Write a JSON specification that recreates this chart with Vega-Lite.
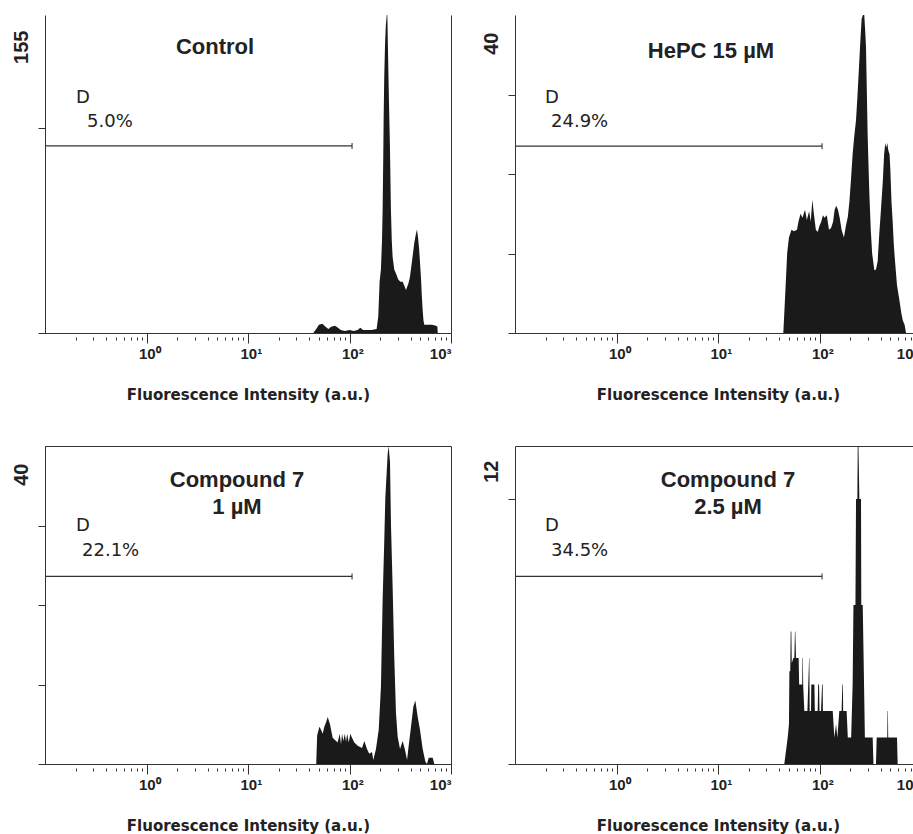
{
  "$schema": "https://vega.github.io/schema/vega-lite/v6.json",
  "background": "white",
  "padding": {"left": 11, "top": 15, "right": 0, "bottom": 0},
  "config": {
    "view": {"stroke": null},
    "axis": {"grid": false, "domainColor": "#333333", "tickColor": "#333333", "labelColor": "#222222", "titleColor": "#222222", "labelFont": "Liberation Sans", "titleFont": "Liberation Sans"},
    "title": {"font": "Liberation Sans", "color": "#222222", "fontWeight": "bold", "fontSize": 22, "anchor": "middle", "frame": "group", "baseline": "top"},
    "text": {"font": "DejaVu Sans", "color": "#222222", "fontSize": 18, "align": "left", "baseline": "alphabetic"}
  },
  "datasets": {
    "control": [{"x":44,"y":0},{"x":47,"y":2},{"x":50,"y":4},{"x":54,"y":4.5},{"x":58,"y":3},{"x":62,"y":2},{"x":66,"y":3},{"x":72,"y":3.5},{"x":77,"y":2.5},{"x":82,"y":1.5},{"x":90,"y":1},{"x":100,"y":1.5},{"x":110,"y":1},{"x":120,"y":1.5},{"x":128,"y":2.5},{"x":136,"y":1.5},{"x":150,"y":1.5},{"x":165,"y":1.5},{"x":185,"y":2},{"x":192,"y":8},{"x":198,"y":25},{"x":204,"y":31},{"x":209,"y":45},{"x":212,"y":60},{"x":215,"y":85},{"x":217,"y":105},{"x":220,"y":125},{"x":224,"y":141},{"x":228,"y":150},{"x":233,"y":155},{"x":236,"y":155},{"x":239,"y":140},{"x":242,"y":125},{"x":246,"y":108},{"x":250,"y":92},{"x":256,"y":60},{"x":261,"y":45},{"x":266,"y":37},{"x":276,"y":31},{"x":287,"y":29},{"x":303,"y":26},{"x":318,"y":25},{"x":334,"y":25},{"x":347,"y":23},{"x":360,"y":21},{"x":380,"y":24},{"x":393,"y":27},{"x":403,"y":31},{"x":420,"y":38},{"x":435,"y":44},{"x":450,"y":48},{"x":462,"y":50.5},{"x":475,"y":46},{"x":487,"y":40},{"x":500,"y":31},{"x":506,"y":27},{"x":516,"y":18},{"x":526,"y":11},{"x":536,"y":6},{"x":546,"y":4},{"x":580,"y":4},{"x":650,"y":4},{"x":711,"y":3.5},{"x":735,"y":3},{"x":740,"y":0}],
    "hepc": [{"x":44,"y":0},{"x":46,"y":5},{"x":48,"y":10},{"x":50,"y":12},{"x":53,"y":13},{"x":56,"y":12.8},{"x":60,"y":13},{"x":62,"y":14},{"x":65,"y":15},{"x":68,"y":14.5},{"x":72,"y":15.5},{"x":75,"y":14.2},{"x":79,"y":15.3},{"x":82,"y":14},{"x":85,"y":16.8},{"x":88,"y":15},{"x":92,"y":13},{"x":96,"y":12.7},{"x":100,"y":13.5},{"x":104,"y":14},{"x":108,"y":14.8},{"x":112,"y":14.5},{"x":118,"y":14.8},{"x":124,"y":13},{"x":130,"y":13.2},{"x":136,"y":14},{"x":141,"y":15.5},{"x":146,"y":16},{"x":152,"y":15.5},{"x":158,"y":14.5},{"x":165,"y":13},{"x":174,"y":12},{"x":182,"y":13.5},{"x":190,"y":14.6},{"x":197,"y":16.5},{"x":204,"y":19.2},{"x":212,"y":22.5},{"x":219,"y":24.5},{"x":229,"y":26.8},{"x":237,"y":30},{"x":245,"y":33.5},{"x":252,"y":36.5},{"x":260,"y":39.5},{"x":268,"y":40},{"x":276,"y":40},{"x":282,"y":38},{"x":287,"y":36},{"x":293,"y":30},{"x":298,"y":25},{"x":304,"y":21},{"x":310,"y":17.5},{"x":320,"y":13},{"x":330,"y":10},{"x":347,"y":7.9},{"x":360,"y":8},{"x":374,"y":9},{"x":388,"y":12.5},{"x":403,"y":15.5},{"x":420,"y":19},{"x":433,"y":22.5},{"x":445,"y":23.9},{"x":455,"y":23.3},{"x":466,"y":23.9},{"x":476,"y":23},{"x":490,"y":22.5},{"x":499,"y":20.5},{"x":512,"y":16.5},{"x":526,"y":14},{"x":540,"y":11},{"x":555,"y":9},{"x":580,"y":6},{"x":611,"y":4.2},{"x":640,"y":2.5},{"x":661,"y":1.6},{"x":690,"y":1},{"x":712,"y":0}],
    "c1": [{"x":47,"y":0},{"x":48,"y":3.6},{"x":50.5,"y":4.7},{"x":52.4,"y":4.3},{"x":54.4,"y":3.8},{"x":56.5,"y":4.7},{"x":59,"y":5.3},{"x":61,"y":5.9},{"x":64.2,"y":5},{"x":68.3,"y":3.3},{"x":72.4,"y":3},{"x":76.5,"y":2.7},{"x":80,"y":3.8},{"x":82.5,"y":2.5},{"x":84.5,"y":3.8},{"x":86.9,"y":2.9},{"x":90,"y":3.8},{"x":92.4,"y":2.8},{"x":95,"y":3.8},{"x":98.2,"y":2.7},{"x":102,"y":3.8},{"x":105,"y":3.4},{"x":111.5,"y":2.7},{"x":120.4,"y":2.3},{"x":132.8,"y":2},{"x":140,"y":2.9},{"x":148.7,"y":1.9},{"x":156.6,"y":1.3},{"x":166.7,"y":1.5},{"x":171.5,"y":0.5},{"x":182.3,"y":1.9},{"x":194,"y":4.3},{"x":204,"y":9.7},{"x":212,"y":20.6},{"x":220,"y":28},{"x":225.4,"y":33.5},{"x":237.7,"y":39},{"x":243,"y":40},{"x":250.6,"y":38},{"x":256.4,"y":30},{"x":266.6,"y":21.8},{"x":276,"y":13.5},{"x":287,"y":6.4},{"x":298.5,"y":3.4},{"x":314.6,"y":1.9},{"x":334,"y":2.9},{"x":352,"y":1.8},{"x":369,"y":0.5},{"x":383,"y":2.3},{"x":403.5,"y":4.7},{"x":425.5,"y":7.2},{"x":445,"y":8},{"x":470,"y":5.9},{"x":495,"y":4.3},{"x":526,"y":1.9},{"x":558.5,"y":0.3},{"x":580,"y":0},{"x":603,"y":0.8},{"x":660,"y":0.8},{"x":685,"y":0}],
    "c25": [{"x":45,"y":0},{"x":48.6,"y":1},{"x":50,"y":1.5},{"x":50.5,"y":3.5},{"x":51.5,"y":3.5},{"x":52,"y":5},{"x":52.8,"y":5},{"x":53.3,"y":3.8},{"x":55.2,"y":4},{"x":56.5,"y":4},{"x":57.3,"y":5},{"x":57.8,"y":5},{"x":58.7,"y":4},{"x":62.3,"y":4},{"x":63,"y":3},{"x":65.8,"y":3},{"x":67.5,"y":3},{"x":68,"y":4},{"x":68.6,"y":4},{"x":69,"y":3},{"x":70.9,"y":2},{"x":74.8,"y":2},{"x":76,"y":2},{"x":79,"y":4},{"x":79.5,"y":4},{"x":80,"y":2},{"x":82.5,"y":2},{"x":83,"y":3},{"x":89,"y":3},{"x":90,"y":2},{"x":96,"y":2},{"x":97,"y":3},{"x":99,"y":3},{"x":100,"y":2},{"x":103.5,"y":2},{"x":106,"y":3},{"x":107.5,"y":3},{"x":108,"y":2},{"x":116,"y":2},{"x":120.4,"y":2},{"x":130,"y":2},{"x":135,"y":2},{"x":140,"y":1},{"x":145.5,"y":1.5},{"x":150,"y":1},{"x":156.7,"y":2},{"x":165,"y":2},{"x":168,"y":3},{"x":170,"y":3},{"x":171,"y":2},{"x":179.5,"y":2},{"x":185,"y":2},{"x":190,"y":1},{"x":196.6,"y":1},{"x":205,"y":1},{"x":212,"y":3},{"x":216,"y":6},{"x":220,"y":6},{"x":226,"y":6},{"x":229,"y":10},{"x":236,"y":10},{"x":238,"y":12},{"x":242,"y":12},{"x":247,"y":10},{"x":256.4,"y":10},{"x":258,"y":6},{"x":266.6,"y":6},{"x":272,"y":4},{"x":280,"y":1},{"x":298.5,"y":1},{"x":320,"y":1},{"x":334,"y":1},{"x":340,"y":0},{"x":360,"y":0},{"x":366,"y":1},{"x":420,"y":1},{"x":440,"y":1},{"x":465,"y":1},{"x":468,"y":2},{"x":472,"y":2},{"x":475,"y":1},{"x":567,"y":1},{"x":580,"y":1},{"x":589,"y":0}],
    "gates": [
      {"panel": "Control", "x1": 0.1, "x2": 106, "y": 91.2, "label": "D", "pct": "5.0%"},
      {"panel": "HePC", "x1": 0.1, "x2": 106, "y": 23.5, "label": "D", "pct": "24.9%"},
      {"panel": "C1", "x1": 0.1, "x2": 106, "y": 23.6, "label": "D", "pct": "22.1%"},
      {"panel": "C25", "x1": 0.1, "x2": 106, "y": 7.08, "label": "D", "pct": "34.5%"}
    ]
  },
  "columns": 2,
  "spacing": {"row": 113, "column": 64},
  "bounds": "flush",
  "concat": [
    {
      "width": 406, "height": 318,
      "title": {"text": "Control", "dx": -33, "offset": -44},
      "layer": [
        {"data": {"name": "control"}, "mark": {"type": "area", "color": "#1a1a1a", "clip": true},
         "encoding": {
           "x": {"field": "x", "type": "quantitative", "scale": {"type": "log", "domain": [0.1, 1000], "nice": false},
                 "axis": {"orient": "bottom", "values": [1, 10, 100, 1000], "labelExpr": "datum.value == 1 ? '10⁰' : datum.value == 10 ? '10¹' : datum.value == 100 ? '10²' : '10³'", "labelAlign": {"condition": {"test": "datum.value >= 800", "value": "right"}, "value": "left"}, "labelOffset": {"condition": {"test": "datum.value >= 800", "value": 0}, "value": -8}, "labelBaseline": "top", "labelPadding": 3, "labelFontSize": 15, "labelFontWeight": "bold", "labelOverlap": false, "labelBound": false, "labelFlush": false, "tickSize": 10, "tickWidth": 1, "domainWidth": 1, "grid": false, "title": "Fluorescence Intensity (a.u.)", "titleFont": "DejaVu Sans", "titleFontSize": 15, "titleFontWeight": "bold", "titlePadding": 26}},
           "y": {"field": "y", "type": "quantitative", "scale": {"domain": [0, 155], "nice": false},
                 "axis": {"orient": "left", "values": [0, 100], "tickSize": 7, "labels": false, "grid": false, "title": "155", "titleFontSize": 20, "titleFontWeight": "bold", "titleAngle": 270, "titleAlign": "right", "titleBaseline": "bottom", "titleY": 15, "titlePadding": 6}}
         }},
        {"data": {"name": "gates"}, "transform": [{"filter": "datum.panel == 'Control'"}], "mark": {"type": "rule", "color": "#333333", "strokeWidth": 1.3},
         "encoding": {
           "x": {"field": "x1", "type": "quantitative", "scale": {"type": "log", "domain": [0.1, 1000], "nice": false},
                 "axis": {"orient": "bottom", "values": [0.2,0.3,0.4,0.5,0.6,0.7,0.8,0.9,2,3,4,5,6,7,8,9,20,30,40,50,60,70,80,90,200,300,400,500,600,700,800,900], "tickSize": 3, "offset": 4, "domain": false, "labels": false, "title": null, "grid": false}},
           "x2": {"field": "x2"},
           "y": {"field": "y", "type": "quantitative", "scale": {"domain": [0, 155], "nice": false},
                 "axis": {"orient": "right", "ticks": false, "labels": false, "title": null, "grid": false, "domainWidth": 1}}
         }},
        {"data": {"name": "gates"}, "transform": [{"filter": "datum.panel == 'Control'"}], "mark": {"type": "tick", "orient": "vertical", "size": 6, "thickness": 1.5, "color": "#333333"},
         "encoding": {
           "x": {"field": "x2", "type": "quantitative", "scale": {"type": "log", "domain": [0.1, 1000], "nice": false}, "axis": null},
           "y": {"field": "y", "type": "quantitative", "scale": {"domain": [0, 155], "nice": false}, "axis": null}
         }},
        {"data": {"name": "gates"}, "transform": [{"filter": "datum.panel == 'Control'"}], "mark": {"type": "text", "dx": 31, "dy": -43},
         "encoding": {
           "x": {"field": "x1", "type": "quantitative", "scale": {"type": "log", "domain": [0.1, 1000], "nice": false}, "axis": null},
           "y": {"field": "y", "type": "quantitative", "scale": {"domain": [0, 155], "nice": false}, "axis": null},
           "text": {"field": "label"}
         }},
        {"data": {"name": "gates"}, "transform": [{"filter": "datum.panel == 'Control'"}], "mark": {"type": "text", "dx": 42, "dy": -19},
         "encoding": {
           "x": {"field": "x1", "type": "quantitative", "scale": {"type": "log", "domain": [0.1, 1000], "nice": false}, "axis": null},
           "y": {"field": "y", "type": "quantitative", "scale": {"domain": [0, 155], "nice": false}, "axis": null},
           "text": {"field": "pct"}
         }}
      ],
      "resolve": {"axis": {"x": "independent", "y": "independent"}}
    },
    {
      "width": 399, "height": 318,
      "title": {"text": "HePC 15 µM", "dx": -3.5, "offset": -48},
      "layer": [
        {"data": {"name": "hepc"}, "mark": {"type": "area", "color": "#1a1a1a", "clip": true},
         "encoding": {
           "x": {"field": "x", "type": "quantitative", "scale": {"type": "log", "domain": [0.1, 853], "nice": false},
                 "axis": {"orient": "bottom", "values": [1, 10, 100, 853], "labelExpr": "datum.value == 1 ? '10⁰' : datum.value == 10 ? '10¹' : datum.value == 100 ? '10²' : '10'", "labelAlign": {"condition": {"test": "datum.value >= 800", "value": "right"}, "value": "left"}, "labelOffset": {"condition": {"test": "datum.value >= 800", "value": -1}, "value": -8}, "tickOpacity": {"condition": {"test": "datum.value >= 800", "value": 0}, "value": 1}, "labelBaseline": "top", "labelPadding": 3, "labelFontSize": 15, "labelFontWeight": "bold", "labelOverlap": false, "labelBound": false, "labelFlush": false, "tickSize": 10, "tickWidth": 1, "domainWidth": 1, "grid": false, "title": "Fluorescence Intensity (a.u.)", "titleX": 203, "titleFont": "DejaVu Sans", "titleFontSize": 15, "titleFontWeight": "bold", "titlePadding": 26}},
           "y": {"field": "y", "type": "quantitative", "scale": {"domain": [0, 40], "nice": false},
                 "axis": {"orient": "left", "values": [0, 10, 20, 30], "tickSize": 7, "labels": false, "grid": false, "title": "40", "titleFontSize": 20, "titleFontWeight": "bold", "titleAngle": 270, "titleAlign": "right", "titleBaseline": "bottom", "titleY": 17, "titlePadding": 6}}
         }},
        {"data": {"name": "gates"}, "transform": [{"filter": "datum.panel == 'HePC'"}], "mark": {"type": "rule", "color": "#333333", "strokeWidth": 1.3},
         "encoding": {
           "x": {"field": "x1", "type": "quantitative", "scale": {"type": "log", "domain": [0.1, 853], "nice": false},
                 "axis": {"orient": "bottom", "values": [0.2,0.3,0.4,0.5,0.6,0.7,0.8,0.9,2,3,4,5,6,7,8,9,20,30,40,50,60,70,80,90,200,300,400,500,600,700,800], "tickSize": 3, "offset": 4, "domain": false, "labels": false, "title": null, "grid": false}},
           "x2": {"field": "x2"},
           "y": {"field": "y", "type": "quantitative", "scale": {"domain": [0, 40], "nice": false}, "axis": null}
         }},
        {"data": {"name": "gates"}, "transform": [{"filter": "datum.panel == 'HePC'"}], "mark": {"type": "tick", "orient": "vertical", "size": 6, "thickness": 1.5, "color": "#333333"},
         "encoding": {
           "x": {"field": "x2", "type": "quantitative", "scale": {"type": "log", "domain": [0.1, 853], "nice": false}, "axis": null},
           "y": {"field": "y", "type": "quantitative", "scale": {"domain": [0, 40], "nice": false}, "axis": null}
         }},
        {"data": {"name": "gates"}, "transform": [{"filter": "datum.panel == 'HePC'"}], "mark": {"type": "text", "dx": 30, "dy": -43},
         "encoding": {
           "x": {"field": "x1", "type": "quantitative", "scale": {"type": "log", "domain": [0.1, 853], "nice": false}, "axis": null},
           "y": {"field": "y", "type": "quantitative", "scale": {"domain": [0, 40], "nice": false}, "axis": null},
           "text": {"field": "label"}
         }},
        {"data": {"name": "gates"}, "transform": [{"filter": "datum.panel == 'HePC'"}], "mark": {"type": "text", "dx": 36, "dy": -19},
         "encoding": {
           "x": {"field": "x1", "type": "quantitative", "scale": {"type": "log", "domain": [0.1, 853], "nice": false}, "axis": null},
           "y": {"field": "y", "type": "quantitative", "scale": {"domain": [0, 40], "nice": false}, "axis": null},
           "text": {"field": "pct"}
         }}
      ],
      "resolve": {"axis": {"x": "independent", "y": "independent"}}
    },
    {
      "width": 406, "height": 318,
      "view": {"stroke": "#333333", "strokeWidth": 1},
      "title": {"text": ["Compound 7", "1 µM"], "dx": -11, "offset": -73, "lineHeight": 27},
      "layer": [
        {"data": {"name": "c1"}, "mark": {"type": "area", "color": "#1a1a1a", "clip": true},
         "encoding": {
           "x": {"field": "x", "type": "quantitative", "scale": {"type": "log", "domain": [0.1, 1000], "nice": false},
                 "axis": {"orient": "bottom", "values": [1, 10, 100, 1000], "labelExpr": "datum.value == 1 ? '10⁰' : datum.value == 10 ? '10¹' : datum.value == 100 ? '10²' : '10³'", "labelAlign": {"condition": {"test": "datum.value >= 800", "value": "right"}, "value": "left"}, "labelOffset": {"condition": {"test": "datum.value >= 800", "value": 0}, "value": -8}, "labelBaseline": "top", "labelPadding": 3, "labelFontSize": 15, "labelFontWeight": "bold", "labelOverlap": false, "labelBound": false, "labelFlush": false, "tickSize": 10, "tickWidth": 1, "domainWidth": 1, "grid": false, "title": "Fluorescence Intensity (a.u.)", "titleFont": "DejaVu Sans", "titleFontSize": 15, "titleFontWeight": "bold", "titlePadding": 26}},
           "y": {"field": "y", "type": "quantitative", "scale": {"domain": [0, 40], "nice": false},
                 "axis": {"orient": "left", "values": [0, 10, 20, 30], "tickSize": 7, "labels": false, "grid": false, "title": "40", "titleFontSize": 20, "titleFontWeight": "bold", "titleAngle": 270, "titleAlign": "right", "titleBaseline": "bottom", "titleY": 17, "titlePadding": 6}}
         }},
        {"data": {"name": "gates"}, "transform": [{"filter": "datum.panel == 'C1'"}], "mark": {"type": "rule", "color": "#333333", "strokeWidth": 1.3},
         "encoding": {
           "x": {"field": "x1", "type": "quantitative", "scale": {"type": "log", "domain": [0.1, 1000], "nice": false},
                 "axis": {"orient": "bottom", "values": [0.2,0.3,0.4,0.5,0.6,0.7,0.8,0.9,2,3,4,5,6,7,8,9,20,30,40,50,60,70,80,90,200,300,400,500,600,700,800,900], "tickSize": 3, "offset": 4, "domain": false, "labels": false, "title": null, "grid": false}},
           "x2": {"field": "x2"},
           "y": {"field": "y", "type": "quantitative", "scale": {"domain": [0, 40], "nice": false}, "axis": null}
         }},
        {"data": {"name": "gates"}, "transform": [{"filter": "datum.panel == 'C1'"}], "mark": {"type": "tick", "orient": "vertical", "size": 6, "thickness": 1.5, "color": "#333333"},
         "encoding": {
           "x": {"field": "x2", "type": "quantitative", "scale": {"type": "log", "domain": [0.1, 1000], "nice": false}, "axis": null},
           "y": {"field": "y", "type": "quantitative", "scale": {"domain": [0, 40], "nice": false}, "axis": null}
         }},
        {"data": {"name": "gates"}, "transform": [{"filter": "datum.panel == 'C1'"}], "mark": {"type": "text", "dx": 31, "dy": -45},
         "encoding": {
           "x": {"field": "x1", "type": "quantitative", "scale": {"type": "log", "domain": [0.1, 1000], "nice": false}, "axis": null},
           "y": {"field": "y", "type": "quantitative", "scale": {"domain": [0, 40], "nice": false}, "axis": null},
           "text": {"field": "label"}
         }},
        {"data": {"name": "gates"}, "transform": [{"filter": "datum.panel == 'C1'"}], "mark": {"type": "text", "dx": 37, "dy": -20},
         "encoding": {
           "x": {"field": "x1", "type": "quantitative", "scale": {"type": "log", "domain": [0.1, 1000], "nice": false}, "axis": null},
           "y": {"field": "y", "type": "quantitative", "scale": {"domain": [0, 40], "nice": false}, "axis": null},
           "text": {"field": "pct"}
         }}
      ],
      "resolve": {"axis": {"x": "independent", "y": "independent"}}
    },
    {
      "width": 399, "height": 318,
      "title": {"text": ["Compound 7", "2.5 µM"], "dx": 13.5, "offset": -73, "lineHeight": 27},
      "layer": [
        {"data": {"name": "c25"}, "mark": {"type": "area", "color": "#1a1a1a", "clip": true},
         "encoding": {
           "x": {"field": "x", "type": "quantitative", "scale": {"type": "log", "domain": [0.1, 853], "nice": false},
                 "axis": {"orient": "bottom", "values": [1, 10, 100, 853], "labelExpr": "datum.value == 1 ? '10⁰' : datum.value == 10 ? '10¹' : datum.value == 100 ? '10²' : '10'", "labelAlign": {"condition": {"test": "datum.value >= 800", "value": "right"}, "value": "left"}, "labelOffset": {"condition": {"test": "datum.value >= 800", "value": -1}, "value": -8}, "tickOpacity": {"condition": {"test": "datum.value >= 800", "value": 0}, "value": 1}, "labelBaseline": "top", "labelPadding": 3, "labelFontSize": 15, "labelFontWeight": "bold", "labelOverlap": false, "labelBound": false, "labelFlush": false, "tickSize": 10, "tickWidth": 1, "domainWidth": 1, "grid": false, "title": "Fluorescence Intensity (a.u.)", "titleX": 203, "titleFont": "DejaVu Sans", "titleFontSize": 15, "titleFontWeight": "bold", "titlePadding": 26}},
           "y": {"field": "y", "type": "quantitative", "scale": {"domain": [0, 12], "nice": false},
                 "axis": {"orient": "left", "values": [0, 10], "tickSize": 7, "labels": false, "grid": false, "title": "12", "titleFontSize": 20, "titleFontWeight": "bold", "titleAngle": 270, "titleAlign": "right", "titleBaseline": "bottom", "titleY": 14, "titlePadding": 6}}
         }},
        {"data": {"name": "gates"}, "transform": [{"filter": "datum.panel == 'C25'"}], "mark": {"type": "rule", "color": "#333333", "strokeWidth": 1.3},
         "encoding": {
           "x": {"field": "x1", "type": "quantitative", "scale": {"type": "log", "domain": [0.1, 853], "nice": false},
                 "axis": {"orient": "bottom", "values": [0.2,0.3,0.4,0.5,0.6,0.7,0.8,0.9,2,3,4,5,6,7,8,9,20,30,40,50,60,70,80,90,200,300,400,500,600,700,800], "tickSize": 3, "offset": 4, "domain": false, "labels": false, "title": null, "grid": false}},
           "x2": {"field": "x2"},
           "y": {"field": "y", "type": "quantitative", "scale": {"domain": [0, 12], "nice": false}, "axis": null}
         }},
        {"data": {"name": "gates"}, "transform": [{"filter": "datum.panel == 'C25'"}], "mark": {"type": "tick", "orient": "vertical", "size": 6, "thickness": 1.5, "color": "#333333"},
         "encoding": {
           "x": {"field": "x2", "type": "quantitative", "scale": {"type": "log", "domain": [0.1, 853], "nice": false},
                 "axis": {"orient": "top", "ticks": false, "labels": false, "title": null, "grid": false}},
           "y": {"field": "y", "type": "quantitative", "scale": {"domain": [0, 12], "nice": false}, "axis": null}
         }},
        {"data": {"name": "gates"}, "transform": [{"filter": "datum.panel == 'C25'"}], "mark": {"type": "text", "dx": 30, "dy": -45},
         "encoding": {
           "x": {"field": "x1", "type": "quantitative", "scale": {"type": "log", "domain": [0.1, 853], "nice": false}, "axis": null},
           "y": {"field": "y", "type": "quantitative", "scale": {"domain": [0, 12], "nice": false}, "axis": null},
           "text": {"field": "label"}
         }},
        {"data": {"name": "gates"}, "transform": [{"filter": "datum.panel == 'C25'"}], "mark": {"type": "text", "dx": 36, "dy": -20},
         "encoding": {
           "x": {"field": "x1", "type": "quantitative", "scale": {"type": "log", "domain": [0.1, 853], "nice": false}, "axis": null},
           "y": {"field": "y", "type": "quantitative", "scale": {"domain": [0, 12], "nice": false}, "axis": null},
           "text": {"field": "pct"}
         }}
      ],
      "resolve": {"axis": {"x": "independent", "y": "independent"}}
    }
  ]
}
